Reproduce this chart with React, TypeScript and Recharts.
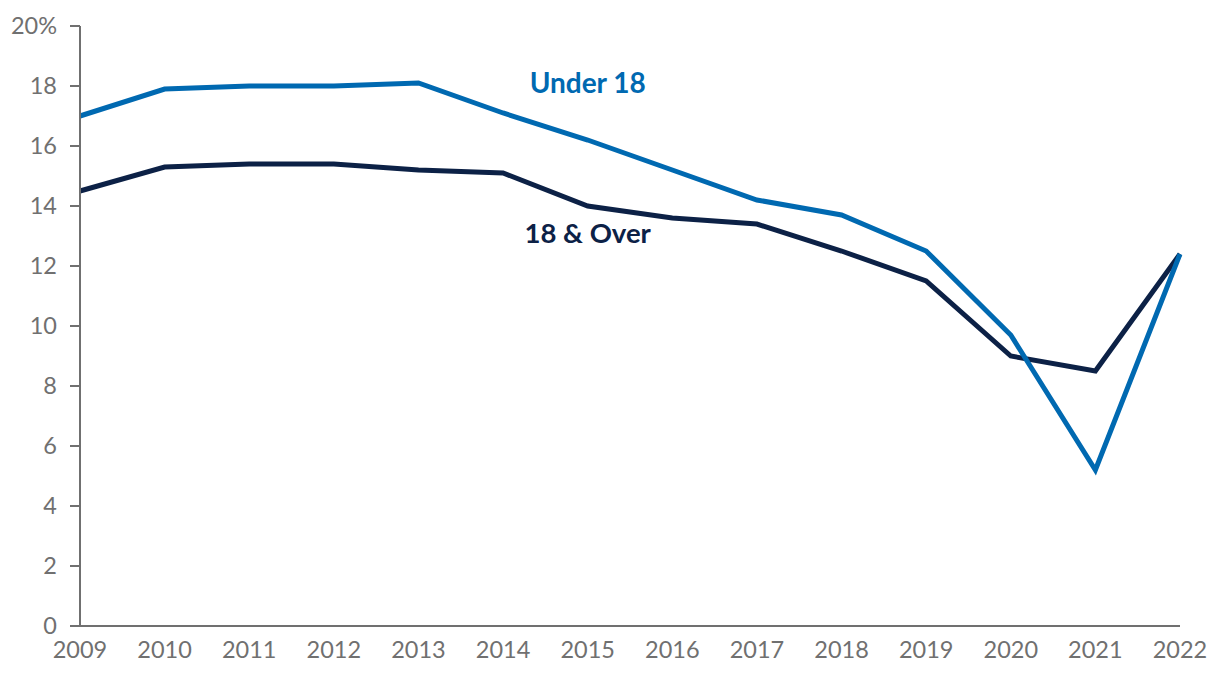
import React from 'react';
import { LineChart, Line, XAxis, YAxis, ReferenceDot } from 'recharts';

const years = ['2009', '2010', '2011', '2012', '2013', '2014', '2015', '2016', '2017', '2018', '2019', '2020', '2021', '2022'];
const under18 = [17.0, 17.9, 18.0, 18.0, 18.1, 17.1, 16.2, 15.2, 14.2, 13.7, 12.5, 9.7, 5.2, 12.4];
const over18 = [14.5, 15.3, 15.4, 15.4, 15.2, 15.1, 14.0, 13.6, 13.4, 12.5, 11.5, 9.0, 8.5, 12.4];
const yTicks = [0, 2, 4, 6, 8, 10, 12, 14, 16, 18, 20];

const BLUE = '#0069b1';
const NAVY = '#0c2146';
const GREY = '#707070';
const FONT = 'Lato, "Open Sans", sans-serif';

const data = years.map((year, i) => ({ year, under18: under18[i], over18: over18[i] }));

const tickStyle = { fontSize: 23.5, fill: GREY, fontFamily: FONT };

export default function App() {
  return (
    <div style={{ position: 'absolute', left: 0, top: 0 }}>
      <LineChart
        width={1220}
        height={678}
        data={data}
        margin={{ top: 26, right: 40, bottom: 0, left: 0 }}
      >
        <XAxis
          dataKey="year"
          tickLine={false}
          axisLine={{ stroke: GREY, strokeWidth: 2 }}
          tick={tickStyle}
          tickMargin={9}
          height={52}
          interval={0}
        />
        <YAxis
          domain={[0, 20]}
          ticks={yTicks}
          width={80}
          tickSize={10}
          tickMargin={13}
          tickLine={{ stroke: GREY, strokeWidth: 2 }}
          axisLine={{ stroke: GREY, strokeWidth: 2 }}
          tick={tickStyle}
          tickFormatter={(v) => (v === 20 ? '20%' : String(v))}
        />
        <Line
          dataKey="over18"
          stroke={NAVY}
          strokeWidth={5}
          dot={false}
          isAnimationActive={false}
        />
        <Line
          dataKey="under18"
          stroke={BLUE}
          strokeWidth={5}
          dot={false}
          isAnimationActive={false}
        />
        <ReferenceDot
          x="2015"
          y={18.1}
          r={0}
          stroke="none"
          fill="none"
          label={{ value: 'Under 18', position: 'center', fill: BLUE, fontSize: 28, fontWeight: 700, fontFamily: FONT }}
        />
        <ReferenceDot
          x="2015"
          y={13.1}
          r={0}
          stroke="none"
          fill="none"
          label={{ value: '18 & Over', position: 'center', fill: NAVY, fontSize: 27.5, fontWeight: 700, fontFamily: FONT }}
        />
      </LineChart>
    </div>
  );
}
